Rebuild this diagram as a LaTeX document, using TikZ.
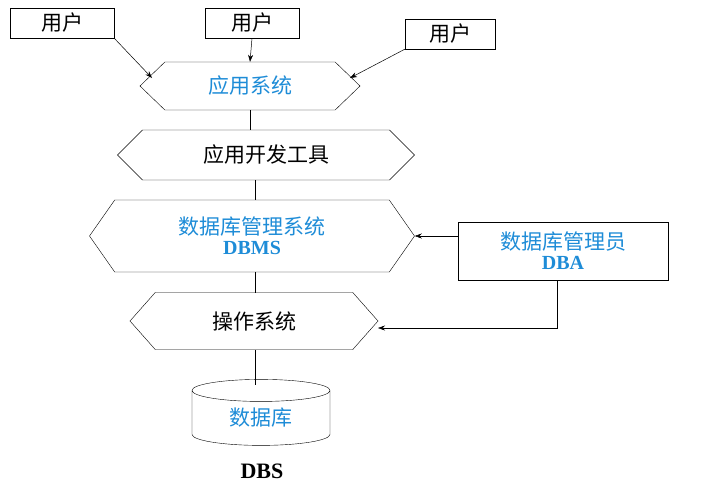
\documentclass[tikz,border=0pt]{standalone}
\usepackage{fontspec}
\setmainfont{Liberation Serif}
\newfontfamily\cjk{Noto Sans CJK SC}
\usetikzlibrary{shapes.symbols,shapes.geometric,arrows.meta}
\definecolor{tblue}{RGB}{30,140,215}
\begin{document}
\begin{tikzpicture}[x=1pt,y=-1pt,
  every node/.style={font=\cjk\fontsize{21}{24}\selectfont, inner sep=0pt},
  ubox/.style={draw, minimum width=92pt, minimum height=30pt},
  hexa/.style={draw, signal, signal to=east and west},
  conn/.style={draw, line width=0.5pt},
  arr/.style={conn, -{Stealth[length=7pt,width=5pt]}},
  bl/.style={text=tblue}]
\useasboundingbox (0,0) rectangle (709,490);
\node[ubox, minimum width=104pt] (u1) at (62,23) {用户};
\node[ubox, minimum width=94pt] (u2) at (252,23) {用户};
\node[ubox, minimum width=90pt] (u3) at (450,34) {用户};
\node[hexa, bl, minimum width=220pt, minimum height=48pt, signal pointer angle=88] (app) at (250,86) {应用系统};
\node[hexa, minimum width=297pt, minimum height=50pt, signal pointer angle=90] (tool) at (266,155) {应用开发工具};
\node[hexa, minimum width=325pt, minimum height=72pt, signal pointer angle=110, align=center, bl] (dbms) at (252,236) {数据库管理系统\\[-4pt]{\rmfamily\bfseries\fontsize{20}{22}\selectfont DBMS}};
\node[draw, minimum width=210pt, minimum height=58pt, align=center, bl] (dba) at (563,251) {数据库管理员\\[-4pt]{\rmfamily\bfseries\fontsize{20}{22}\selectfont DBA}};
\node[hexa, minimum width=248pt, minimum height=57pt, signal pointer angle=97] (os) at (254,321) {操作系统};
\node[draw, cylinder, shape border rotate=90, aspect=0.35, minimum width=138pt, minimum height=66pt, bl] (db) at (261,418) {数据库};
\node[font=\rmfamily\bfseries\fontsize{22}{24}\selectfont] (dbs) at (262,471) {DBS};
\coordinate (c1) at (557,328);
\draw[arr] (u1.south east) -- (152,78);
\draw[arr] (u2.south) -- (app.north);
\draw[arr] (u3.south west) -- (350,78);
\draw[conn] (app.south) -- (app.south |- tool.north);
\draw[conn] (255,180) -- (255,200);
\draw[conn] (255,272) -- (255,293);
\draw[conn] (255,350) -- (255,385);
\draw[arr] (dba.west |- dbms.east) -- (dbms.east);
\draw[arr] (dba.south -| c1) -- (c1) -- (378,328);
\end{tikzpicture}
\end{document}
